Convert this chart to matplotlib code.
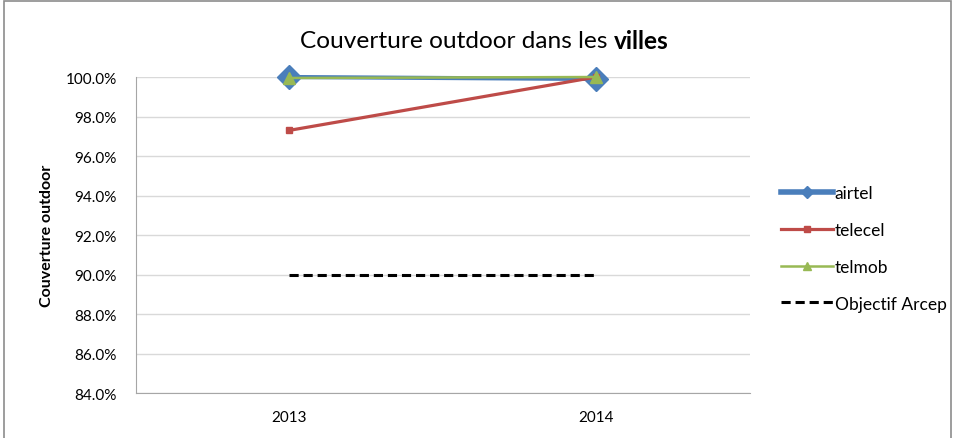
import matplotlib
matplotlib.use("Agg")
import matplotlib.pyplot as plt
from matplotlib.ticker import FuncFormatter
from matplotlib.patches import Rectangle

plt.rcParams['font.family'] = ['Lato', 'DejaVu Sans']

# données
annees = ["2013", "2014"]
airtel = [1.000, 0.999]
telecel = [0.973, 1.000]
telmob = [0.9995, 1.000]
objectif = [0.90, 0.90]

fig = plt.figure(figsize=(9.54, 4.39), dpi=100)
ax = fig.add_axes([0.1426, 0.1025, 0.6434, 0.7198])

x = range(len(annees))
ax.plot(x, airtel, color="#4A7EBB", lw=3, marker="D", markersize=12,
        label="airtel", zorder=3, clip_on=False)
ax.plot(x, telecel, color="#BE4B48", lw=2.3, marker="s", markersize=5,
        label="telecel", zorder=4, clip_on=False)
ax.plot(x, telmob, color="#98B954", lw=1.8, marker="^", markersize=8,
        label="telmob", zorder=5, clip_on=False)
ax.plot(x, objectif, color="black", lw=2.2, dashes=(3, 1.6),
        label="Objectif Arcep", zorder=3)

ax.set_xlim(-0.5, 1.5)
ax.set_ylim(0.84, 1.0)
ax.set_xticks(list(x))
ax.set_xticklabels(annees, fontsize=11)
ax.set_yticks([0.84 + 0.02 * i for i in range(9)])
ax.yaxis.set_major_formatter(FuncFormatter(lambda v, p: f"{v*100:.1f}%"))
ax.tick_params(axis="y", labelsize=11, length=0, pad=14)
ax.tick_params(axis="x", length=0, pad=12)
ax.grid(axis="y", color="#D9D9D9", lw=1)
ax.set_axisbelow(True)
for s in ["top", "right"]:
    ax.spines[s].set_visible(False)
for s in ["left", "bottom"]:
    ax.spines[s].set_color("#A6A6A6")
ax.set_ylabel("Couverture outdoor", fontsize=11.5, fontweight="bold", labelpad=8)

leg = ax.legend(loc="center left", bbox_to_anchor=(1.025, 0.458), frameon=False,
                fontsize=12.5, handlelength=3.0, handletextpad=0.1,
                labelspacing=1.2)
for h, ms, lw in zip(leg.legend_handles, [6, 4, 6, 2.2], [4, 2.3, 1.8, 2.2]):
    h.set_markersize(ms)
    h.set_linewidth(lw)

# titre, avec "villes" en gras
fig.canvas.draw()
r = fig.canvas.get_renderer()
t1 = fig.text(0, 0.905, "Couverture outdoor dans les ", fontsize=17.6, va="center")
t2 = fig.text(0, 0.905, "villes", fontsize=17.6, va="center", fontweight="bold")
w1 = t1.get_window_extent(r).width / fig.bbox.width
w2 = t2.get_window_extent(r).width / fig.bbox.width
x0 = 0.508 - (w1 + w2) / 2
t1.set_x(x0)
t2.set_x(x0 + w1)

# cadre du graphique
fig.patches.append(Rectangle((0.004, -0.01), 0.993, 1.005, transform=fig.transFigure,
                             fill=False, edgecolor="#8C8C8C", lw=1.2))

fig.savefig("out.png", dpi=100)
